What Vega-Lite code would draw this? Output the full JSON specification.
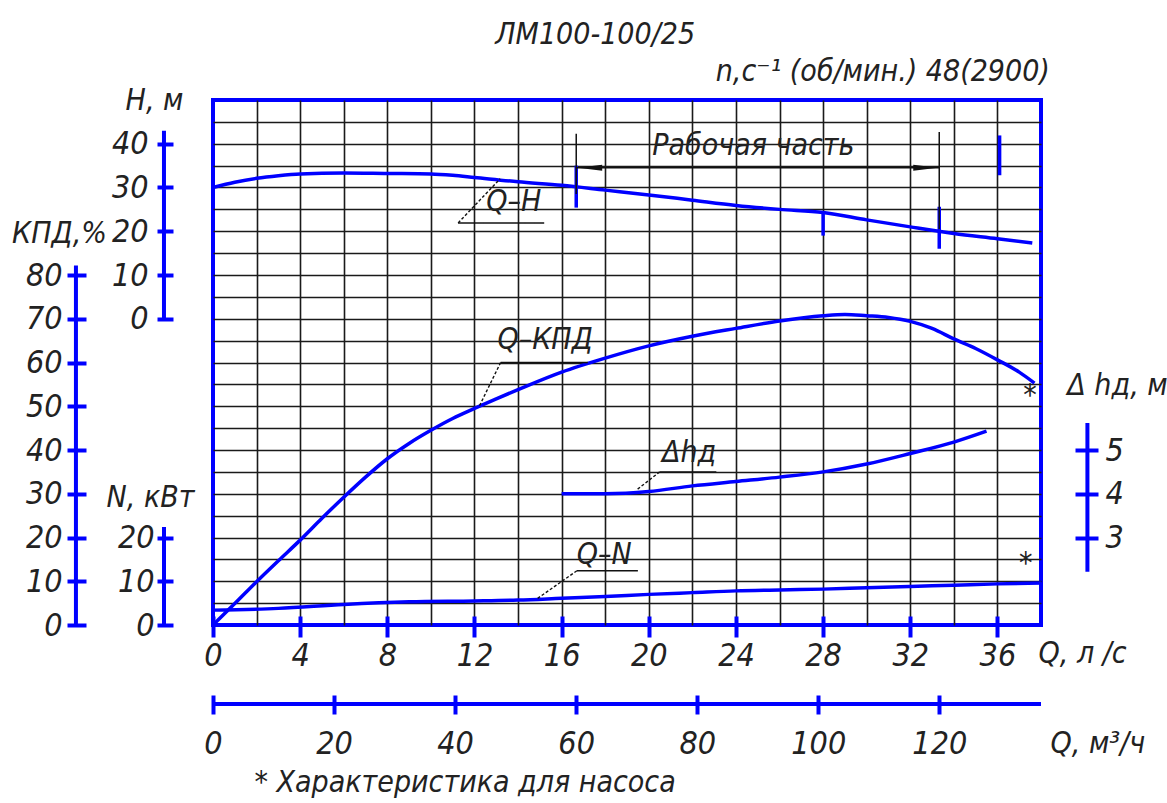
{
 "$schema": "https://vega.github.io/schema/vega-lite/v6.json",
 "width": 828, "height": 525,
 "autosize": {"type": "none"},
 "padding": {"left": 213, "top": 100, "right": 126, "bottom": 178},
 "background": "white",
 "data": {"values": [{}]},
 "config": {
  "view": {"stroke": "#0000ff", "strokeWidth": 4},
  "axis": {
   "labelFont": "Liberation Sans Narrow, DejaVu Sans Condensed, sans-serif",
   "labelFontSize": 32, "labelFontStyle": "italic", "labelColor": "#222",
   "titleFont": "Liberation Sans Narrow, DejaVu Sans Condensed, sans-serif",
   "titleFontSize": 30, "titleFontStyle": "italic", "titleFontWeight": "normal", "titleColor": "#222",
   "titleAngle": 0, "titleAlign": "center", "titleBaseline": "middle",
   "tickColor": "#0000ff", "tickWidth": 4, "domain": false, "grid": false,
   "labelOverlap": false, "labelFlush": false, "labelBound": false
  }
 },
 "resolve": {"scale": {"x": "independent", "y": "independent"}, "axis": {"x": "independent", "y": "independent"}},
 "layer": [
  {
   "data": {"values": [
    {"q": 15.24, "k": 65.1, "t": "Q–КПД"},
    {"q": 17.95, "k": 16.0, "t": "Q–N"},
    {"q": 37.5, "k": 52.3, "t": "*"},
    {"q": 37.3, "k": 13.9, "t": "*"},
    {"q": 17.54, "k": 134.9, "t": "ЛМ100-100/25"},
    {"q": 30.74, "k": 126.4, "t": "n,с⁻¹ (об/мин.) 48(2900)"},
    {"q": 11.57, "k": -36.1, "t": "* Характеристика для насоса"}
   ]},
   "mark": {"type": "text", "font": "Liberation Sans Narrow, DejaVu Sans Condensed, sans-serif", "fontStyle": "italic", "fontSize": 30, "color": "#222", "align": "center", "baseline": "middle"},
   "encoding": {
    "x": {"field": "q", "type": "quantitative", "scale": {"domain": [0, 38], "nice": false, "zero": false},
     "axis": {"orient": "bottom", "grid": true, "values": [2,4,6,8,10,12,14,16,18,20,22,24,26,28,30,32,34,36], "gridColor": "#1a1a1a", "gridWidth": 1.6, "ticks": false, "labels": false, "title": null}},
    "y": {"field": "k", "type": "quantitative", "scale": {"domain": [0, 120], "nice": false, "zero": false},
     "axis": {"orient": "left", "grid": true, "values": [5,10,15,20,25,30,35,40,45,50,55,60,65,70,75,80,85,90,95,100,105,110,115], "gridColor": "#1a1a1a", "gridWidth": 1.6, "ticks": false, "labels": false, "title": null}},
    "text": {"field": "t"}
   }
  },
  {
   "data": {"values": [{"q":0,"n":3.4},{"q":3,"n":3.8},{"q":6,"n":4.7},{"q":9,"n":5.3},{"q":12,"n":5.5},{"q":14,"n":5.7},{"q":16,"n":6.1},{"q":18,"n":6.5},{"q":20,"n":7.0},{"q":22,"n":7.4},{"q":24,"n":7.8},{"q":26,"n":8.0},{"q":28,"n":8.2},{"q":30,"n":8.5},{"q":32,"n":8.8},{"q":34,"n":9.1},{"q":36,"n":9.4},{"q":38,"n":9.6}]},
   "mark": {"type": "line", "color": "#0000ff", "strokeWidth": 3.5, "interpolate": "monotone"},
   "encoding": {
    "x": {"field": "q", "type": "quantitative", "scale": {"domain": [0, 38], "nice": false, "zero": false}, "axis": null},
    "y": {"field": "n", "type": "quantitative", "scale": {"domain": [0, 120], "nice": false, "zero": false},
     "axis": {"orient": "left", "offset": 40, "values": [0, 10, 20], "tickSize": 16, "labelPadding": 3, "title": "N, кВт", "titleX": -23, "titleY": 397}}
   }
  },
  {
   "data": {"values": [{"q":0,"kpd":0},{"q":1,"kpd":4.9},{"q":2,"kpd":9.9},{"q":3,"kpd":14.7},{"q":4,"kpd":19.4},{"q":5,"kpd":24.4},{"q":6,"kpd":29.2},{"q":7,"kpd":33.8},{"q":8,"kpd":38.0},{"q":9,"kpd":41.5},{"q":10,"kpd":44.5},{"q":11,"kpd":47.2},{"q":12,"kpd":49.5},{"q":13,"kpd":51.7},{"q":14,"kpd":53.8},{"q":16,"kpd":57.8},{"q":18,"kpd":61.0},{"q":20,"kpd":63.8},{"q":22,"kpd":66.0},{"q":24,"kpd":67.8},{"q":26,"kpd":69.5},{"q":28,"kpd":70.7},{"q":29,"kpd":71.0},{"q":30,"kpd":70.7},{"q":31,"kpd":70.3},{"q":32,"kpd":69.4},{"q":33,"kpd":67.8},{"q":34,"kpd":65.4},{"q":35,"kpd":63.2},{"q":36,"kpd":60.6},{"q":37,"kpd":57.8},{"q":37.7,"kpd":55.3}]},
   "mark": {"type": "line", "color": "#0000ff", "strokeWidth": 3.5, "interpolate": "monotone"},
   "encoding": {
    "x": {"field": "q", "type": "quantitative", "scale": {"domain": [0, 38], "nice": false, "zero": false},
     "axis": {"orient": "bottom", "offset": -9, "values": [0,4,8,12,16,20,24,28,32,36], "tickSize": 21, "labelPadding": 3, "title": "Q, л /с", "titleX": 825, "titleY": 37, "titleAlign": "left"}},
    "y": {"field": "kpd", "type": "quantitative", "scale": {"domain": [0, 120], "nice": false, "zero": false},
     "axis": {"orient": "left", "offset": 127, "values": [0,10,20,30,40,50,60,70,80], "tickSize": 19, "labelPadding": 5, "title": "КПД,%", "titleX": -27, "titleY": 133}}
   }
  },
  {
   "data": {"values": [{"q":0,"h":30.0},{"q":1,"h":31.2},{"q":2,"h":32.1},{"q":3,"h":32.7},{"q":4,"h":33.1},{"q":6,"h":33.3},{"q":8,"h":33.2},{"q":10,"h":33.1},{"q":11,"h":32.8},{"q":12,"h":32.3},{"q":14,"h":31.3},{"q":16,"h":30.5},{"q":18,"h":29.4},{"q":20,"h":28.3},{"q":22,"h":27.1},{"q":24,"h":25.9},{"q":26,"h":25.0},{"q":28,"h":24.3},{"q":30,"h":22.6},{"q":32,"h":21.0},{"q":34,"h":19.5},{"q":36,"h":18.3},{"q":37.6,"h":17.3}]},
   "mark": {"type": "line", "color": "#0000ff", "strokeWidth": 3.5, "interpolate": "monotone"},
   "encoding": {
    "x": {"field": "q", "type": "quantitative", "scale": {"domain": [0, 38], "nice": false, "zero": false}, "axis": null},
    "y": {"field": "h", "type": "quantitative", "scale": {"domain": [-70, 50], "nice": false, "zero": false},
     "axis": {"orient": "left", "offset": 40, "values": [0,10,20,30,40], "tickSize": 16, "labelPadding": 9, "title": "H, м", "titleX": -19, "titleY": 0}}
   }
  },
  {
   "data": {"values": [{"q":16,"dh":4.0},{"q":18,"dh":4.0},{"q":20,"dh":4.05},{"q":22,"dh":4.18},{"q":24,"dh":4.28},{"q":26,"dh":4.38},{"q":28,"dh":4.5},{"q":30,"dh":4.68},{"q":32,"dh":4.92},{"q":34,"dh":5.18},{"q":35.5,"dh":5.43}]},
   "mark": {"type": "line", "color": "#0000ff", "strokeWidth": 3.5, "interpolate": "monotone"},
   "encoding": {
    "x": {"field": "q", "type": "quantitative", "scale": {"domain": [0, 38], "nice": false, "zero": false}, "axis": null},
    "y": {"field": "dh", "type": "quantitative", "scale": {"domain": [1, 13], "nice": false, "zero": false},
     "axis": {"orient": "right", "offset": 34, "values": [3, 4, 5], "tickSize": 23, "labelPadding": 7, "title": "Δ hд, м", "titleX": 42, "titleY": 285}}
   }
  },
  {
   "data": {"values": [{"qm": 0, "qm2": 136.8}]},
   "mark": {"type": "rule", "color": "#0000ff", "strokeWidth": 4},
   "encoding": {
    "x": {"field": "qm", "type": "quantitative", "scale": {"domain": [0, 136.8], "nice": false, "zero": false},
     "axis": {"orient": "bottom", "offset": 70, "values": [0,20,40,60,80,100,120], "tickSize": 19, "labelPadding": 14, "title": "Q, м³/ч", "titleX": 837, "titleY": 48, "titleAlign": "left"}},
    "x2": {"field": "qm2"},
    "y": {"datum": -18.06, "type": "quantitative", "scale": {"domain": [0, 120], "nice": false, "zero": false}, "axis": null}
   }
  },
  {
   "mark": {"type": "rule", "color": "#0000ff", "strokeWidth": 4},
   "encoding": {
    "x": {"datum": -6.29, "type": "quantitative", "scale": {"domain": [0, 38], "nice": false, "zero": false}, "axis": null},
    "y": {"datum": 0, "type": "quantitative", "scale": {"domain": [0, 120], "nice": false, "zero": false}, "axis": null},
    "y2": {"datum": 82.2}
   }
  },
  {
   "mark": {"type": "rule", "color": "#0000ff", "strokeWidth": 4},
   "encoding": {
    "x": {"datum": -2.25, "type": "quantitative", "scale": {"domain": [0, 38], "nice": false, "zero": false}, "axis": null},
    "y": {"datum": 0, "type": "quantitative", "scale": {"domain": [0, 120], "nice": false, "zero": false}, "axis": null},
    "y2": {"datum": 22.4}
   }
  },
  {
   "mark": {"type": "rule", "color": "#0000ff", "strokeWidth": 4},
   "encoding": {
    "x": {"datum": -2.25, "type": "quantitative", "scale": {"domain": [0, 38], "nice": false, "zero": false}, "axis": null},
    "y": {"datum": 0, "type": "quantitative", "scale": {"domain": [-70, 50], "nice": false, "zero": false}, "axis": null},
    "y2": {"datum": 43}
   }
  },
  {
   "mark": {"type": "rule", "color": "#0000ff", "strokeWidth": 4},
   "encoding": {
    "x": {"datum": 40.13, "type": "quantitative", "scale": {"domain": [0, 38], "nice": false, "zero": false}, "axis": null},
    "y": {"datum": 2.22, "type": "quantitative", "scale": {"domain": [1, 13], "nice": false, "zero": false}, "axis": null},
    "y2": {"datum": 5.62}
   }
  },
  {
   "data": {"values": [{"q": 16.67, "h1": 35.0, "h2": 25.4}, {"q": 33.33, "h1": 25.6, "h2": 16.0}, {"q": 36.1, "h1": 41.9, "h2": 32.8}, {"q": 28.0, "h1": 24.4, "h2": 19.0}]},
   "mark": {"type": "rule", "color": "#0000ff", "strokeWidth": 3.5},
   "encoding": {
    "x": {"field": "q", "type": "quantitative", "scale": {"domain": [0, 38], "nice": false, "zero": false}, "axis": null},
    "y": {"field": "h1", "type": "quantitative", "scale": {"domain": [-70, 50], "nice": false, "zero": false}, "axis": null},
    "y2": {"field": "h2"}
   }
  },
  {
   "data": {"values": [{"q": 16.67, "h1": 42.3, "h2": 28.5}, {"q": 33.33, "h1": 42.7, "h2": 20.5}]},
   "mark": {"type": "rule", "color": "#111", "strokeWidth": 1.5},
   "encoding": {
    "x": {"field": "q", "type": "quantitative", "scale": {"domain": [0, 38], "nice": false, "zero": false}, "axis": null},
    "y": {"field": "h1", "type": "quantitative", "scale": {"domain": [-70, 50], "nice": false, "zero": false}, "axis": null},
    "y2": {"field": "h2"}
   }
  },
  {
   "mark": {"type": "rule", "color": "#111", "strokeWidth": 1.5},
   "encoding": {
    "x": {"datum": 16.67, "type": "quantitative", "scale": {"domain": [0, 38], "nice": false, "zero": false}, "axis": null},
    "x2": {"datum": 33.33},
    "y": {"datum": 34.5, "type": "quantitative", "scale": {"domain": [-70, 50], "nice": false, "zero": false}, "axis": null}
   }
  },
  {
   "data": {"values": [{"q": 17.3, "h": 34.5, "dir": "left"}, {"q": 32.7, "h": 34.5, "dir": "right"}]},
   "mark": {"type": "point", "filled": true, "color": "#111", "opacity": 1, "size": 600},
   "encoding": {
    "x": {"field": "q", "type": "quantitative", "scale": {"domain": [0, 38], "nice": false, "zero": false}, "axis": null},
    "y": {"field": "h", "type": "quantitative", "scale": {"domain": [-70, 50], "nice": false, "zero": false}, "axis": null},
    "shape": {"field": "dir", "type": "nominal", "scale": {"domain": ["left", "right"], "range": ["M-1,0L1,-0.25L1,0.25Z", "M1,0L-1,-0.25L-1,0.25Z"]}, "legend": null}
   }
  },
  {
   "data": {"values": [{"q": 13.8, "h": 26.7, "t": "Q–H"}, {"q": 24.8, "h": 39.5, "t": "Рабочая часть"}]},
   "mark": {"type": "text", "font": "Liberation Sans Narrow, DejaVu Sans Condensed, sans-serif", "fontStyle": "italic", "fontSize": 30, "color": "#222", "align": "center", "baseline": "middle"},
   "encoding": {
    "x": {"field": "q", "type": "quantitative", "scale": {"domain": [0, 38], "nice": false, "zero": false}, "axis": null},
    "y": {"field": "h", "type": "quantitative", "scale": {"domain": [-70, 50], "nice": false, "zero": false}, "axis": null},
    "text": {"field": "t"}
   }
  },
  {
   "data": {"values": [{"q1": 11.25, "v1": 21.9, "q2": 13.18, "v2": 32.0, "s": "dash"}, {"q1": 11.25, "v1": 21.9, "q2": 15.2, "v2": 21.9, "s": "solid"}]},
   "mark": {"type": "rule", "color": "#111", "strokeWidth": 1.4},
   "encoding": {
    "x": {"field": "q1", "type": "quantitative", "scale": {"domain": [0, 38], "nice": false, "zero": false}, "axis": null},
    "x2": {"field": "q2"},
    "y": {"field": "v1", "type": "quantitative", "scale": {"domain": [-70, 50], "nice": false, "zero": false}, "axis": null},
    "y2": {"field": "v2"},
    "strokeDash": {"field": "s", "type": "nominal", "scale": {"domain": ["dash", "solid"], "range": [[3, 2], [1, 0]]}, "legend": null}
   }
  },
  {
   "data": {"values": [{"q1": 13.2, "v1": 60, "q2": 12.2, "v2": 49.8, "s": "dash"}, {"q1": 13.2, "v1": 60, "q2": 17.2, "v2": 60, "s": "solid"}, {"q1": 16.7, "v1": 12.4, "q2": 14.9, "v2": 6.1, "s": "dash"}, {"q1": 16.7, "v1": 12.4, "q2": 19.5, "v2": 12.4, "s": "solid"}]},
   "mark": {"type": "rule", "color": "#111", "strokeWidth": 1.4},
   "encoding": {
    "x": {"field": "q1", "type": "quantitative", "scale": {"domain": [0, 38], "nice": false, "zero": false}, "axis": null},
    "x2": {"field": "q2"},
    "y": {"field": "v1", "type": "quantitative", "scale": {"domain": [0, 120], "nice": false, "zero": false}, "axis": null},
    "y2": {"field": "v2"},
    "strokeDash": {"field": "s", "type": "nominal", "scale": {"domain": ["dash", "solid"], "range": [[3, 2], [1, 0]]}, "legend": null}
   }
  },
  {
   "data": {"values": [{"q1": 20.5, "v1": 4.5, "q2": 19.45, "v2": 4.09, "s": "dash"}, {"q1": 20.5, "v1": 4.5, "q2": 23.1, "v2": 4.5, "s": "solid"}]},
   "mark": {"type": "rule", "color": "#111", "strokeWidth": 1.4},
   "encoding": {
    "x": {"field": "q1", "type": "quantitative", "scale": {"domain": [0, 38], "nice": false, "zero": false}, "axis": null},
    "x2": {"field": "q2"},
    "y": {"field": "v1", "type": "quantitative", "scale": {"domain": [1, 13], "nice": false, "zero": false}, "axis": null},
    "y2": {"field": "v2"},
    "strokeDash": {"field": "s", "type": "nominal", "scale": {"domain": ["dash", "solid"], "range": [[3, 2], [1, 0]]}, "legend": null}
   }
  },
  {
   "data": {"values": [{"q": 21.85, "dh": 4.93, "t": "Δhд"}]},
   "mark": {"type": "text", "font": "Liberation Sans Narrow, DejaVu Sans Condensed, sans-serif", "fontStyle": "italic", "fontSize": 30, "color": "#222", "align": "center", "baseline": "middle"},
   "encoding": {
    "x": {"field": "q", "type": "quantitative", "scale": {"domain": [0, 38], "nice": false, "zero": false}, "axis": null},
    "y": {"field": "dh", "type": "quantitative", "scale": {"domain": [1, 13], "nice": false, "zero": false}, "axis": null},
    "text": {"field": "t"}
   }
  }
 ]
}
